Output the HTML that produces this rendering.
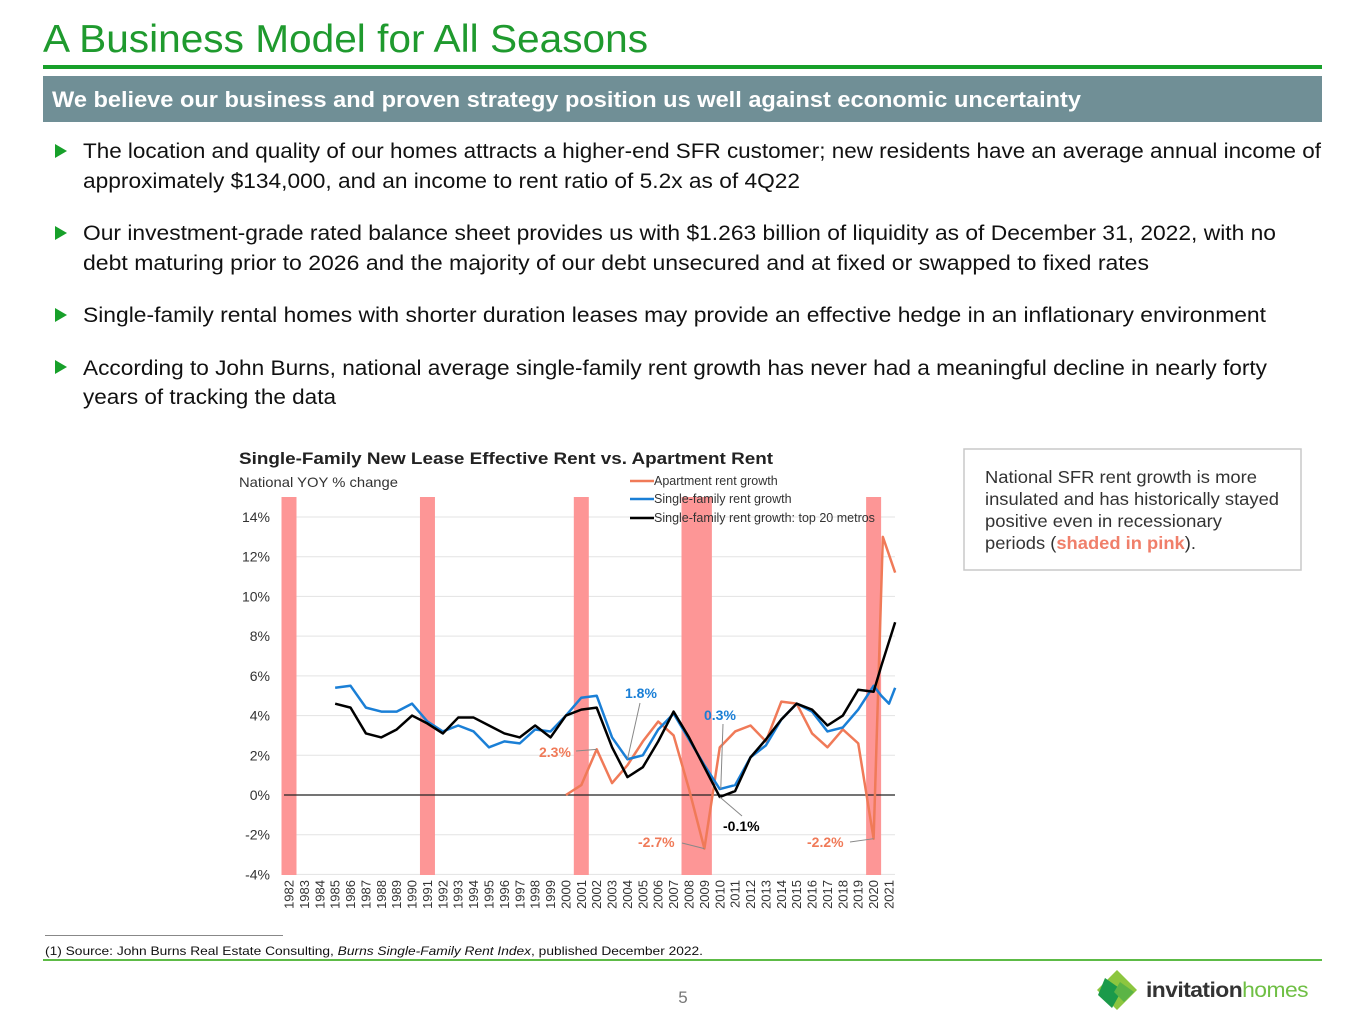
<!DOCTYPE html>
<html><head><meta charset="utf-8">
<style>
html,body{margin:0;padding:0;background:#fff;}
body{width:1365px;height:1024px;overflow:hidden;position:relative;font-family:"Liberation Sans",sans-serif;}
</style></head>
<body>
<svg id="page" width="1365" height="1024" xmlns="http://www.w3.org/2000/svg" style="position:absolute;left:0;top:0">
<text x="43" y="52" font-size="39" fill="#1f9a2e" textLength="605" lengthAdjust="spacingAndGlyphs">A Business Model for All Seasons</text>
<rect x="43" y="65" width="1279" height="4" fill="#17a02a"/>
<rect x="43" y="76" width="1279" height="46" fill="#708f96"/>
<text x="52" y="107" font-size="22" font-weight="bold" fill="#fff" textLength="1029" lengthAdjust="spacingAndGlyphs">We believe our business and proven strategy position us well against economic uncertainty</text>
<g font-size="21.5" fill="#111">
<polygon points="55,144 55,158 67,151" fill="#17a02a"/>
<text x="83" y="158" textLength="1238" lengthAdjust="spacingAndGlyphs">The location and quality of our homes attracts a higher-end SFR customer; new residents have an average annual income of</text>
<text x="83" y="188" textLength="717" lengthAdjust="spacingAndGlyphs">approximately $134,000, and an income to rent ratio of 5.2x as of 4Q22</text>
<polygon points="55,226 55,240 67,233" fill="#17a02a"/>
<text x="83" y="240" textLength="1193" lengthAdjust="spacingAndGlyphs">Our investment-grade rated balance sheet provides us with $1.263 billion of liquidity as of December 31, 2022, with no</text>
<text x="83" y="270" textLength="1066" lengthAdjust="spacingAndGlyphs">debt maturing prior to 2026 and the majority of our debt unsecured and at fixed or swapped to fixed rates</text>
<polygon points="55,308 55,322 67,315" fill="#17a02a"/>
<text x="83" y="322" textLength="1183" lengthAdjust="spacingAndGlyphs">Single-family rental homes with shorter duration leases may provide an effective hedge in an inflationary environment</text>
<polygon points="55,360 55,374 67,367" fill="#17a02a"/>
<text x="83" y="375" textLength="1184" lengthAdjust="spacingAndGlyphs">According to John Burns, national average single-family rent growth has never had a meaningful decline in nearly forty</text>
<text x="83" y="404" textLength="253" lengthAdjust="spacingAndGlyphs">years of tracking the data</text>
</g>

<g id="chart"></g>

<g>
<rect x="964" y="449" width="337" height="121" fill="#fff" stroke="#c8c8c8" stroke-width="1.5"/>
<text x="985" y="483" font-size="17.5" fill="#333" textLength="272" lengthAdjust="spacingAndGlyphs">National SFR rent growth is more</text>
<text x="985" y="505" font-size="17.5" fill="#333" textLength="294" lengthAdjust="spacingAndGlyphs">insulated and has historically stayed</text>
<text x="985" y="527" font-size="17.5" fill="#333" textLength="237" lengthAdjust="spacingAndGlyphs">positive even in recessionary</text>
<text x="985" y="549" font-size="17.5" fill="#333" textLength="211" lengthAdjust="spacingAndGlyphs">periods (<tspan fill="#f07f6a" font-weight="bold">shaded in pink</tspan>).</text>
</g>

<rect x="45" y="935" width="238" height="1" fill="#888"/>
<text x="45" y="955" font-size="12" fill="#111" textLength="658" lengthAdjust="spacingAndGlyphs">(1)    Source: John Burns Real Estate Consulting, <tspan font-style="italic">Burns Single-Family Rent Index</tspan>, published December 2022.</text>
<rect x="43" y="959" width="1279" height="2" fill="#5dbb46"/>
<text x="683" y="1003" font-size="17" fill="#777" text-anchor="middle">5</text>
<g>
<polygon points="1117,970 1137,990 1117,1010 1097,990" fill="#8cc63f"/>
<polygon points="1105,978 1122,990 1112,1008 1098,995" fill="#1b9a4a"/>
<polygon points="1120,982 1134,992 1124,1002 1114,992" fill="#5bb446"/>
<text x="1146" y="997" font-size="21" fill="#333" font-weight="bold" letter-spacing="-0.5" textLength="162" lengthAdjust="spacingAndGlyphs">invitation<tspan fill="#6fbf44" font-weight="normal">homes</tspan></text>
</g>
</svg>

<script>
// chart data
const years = [1982,1983,1984,1985,1986,1987,1988,1989,1990,1991,1992,1993,1994,1995,1996,1997,1998,1999,2000,2001,2002,2003,2004,2005,2006,2007,2008,2009,2010,2011,2012,2013,2014,2015,2016,2017,2018,2019,2020,2021];
const yTicks = [-4,-2,0,2,4,6,8,10,12,14];
const recessionStart = [1982,1991,2001,2008,2020];
const recessionEnd   = [1982,1991,2001,2009,2020];
const sfX = [1985,1986,1987,1988,1989,1990,1991,1992,1993,1994,1995,1996,1997,1998,1999,2000,2001,2002,2003,2004,2005,2006,2007,2008,2009,2010,2011,2012,2013,2014,2015,2016,2017,2018,2019,2020,2020.5,2021,2021.4];
const sfY = [5.4,5.5,4.4,4.2,4.2,4.6,3.7,3.2,3.5,3.2,2.4,2.7,2.6,3.3,3.2,4.0,4.9,5.0,2.9,1.8,2.0,3.3,4.1,2.8,1.5,0.3,0.5,1.9,2.5,3.8,4.6,4.2,3.2,3.4,4.3,5.5,5.0,4.6,5.4];
const topX = [1985,1986,1987,1988,1989,1990,1991,1992,1993,1994,1995,1996,1997,1998,1999,2000,2001,2002,2003,2004,2005,2006,2007,2008,2009,2010,2011,2012,2013,2014,2015,2016,2017,2018,2019,2020,2020.5,2021.4];
const topY = [4.6,4.4,3.1,2.9,3.3,4.0,3.6,3.1,3.9,3.9,3.5,3.1,2.9,3.5,2.9,4.0,4.3,4.4,2.4,0.9,1.4,2.7,4.2,2.9,1.4,-0.1,0.2,1.9,2.8,3.8,4.6,4.3,3.5,4.0,5.3,5.2,6.5,8.7];
const aptX = [2000,2001,2002,2003,2004,2005,2006,2007,2008,2009,2010,2011,2012,2013,2014,2015,2016,2017,2018,2019,2020,2020.6,2021.4];
const aptY = [0,0.5,2.3,0.6,1.5,2.7,3.7,3.0,0.3,-2.7,2.4,3.2,3.5,2.7,4.7,4.6,3.1,2.4,3.3,2.6,-2.2,13.0,11.2];

const NS='http://www.w3.org/2000/svg';
const chart=document.getElementById('chart');
const X0=289, XS=(889-289)/39, Y0=795, YS=(795-517)/14;
function xs(v){return X0+(v-1982)*XS;}
function ys(v){return Y0-v*YS;}
function mk(tag,attrs,parent){const e=document.createElementNS(NS,tag);for(const k in attrs)e.setAttribute(k,attrs[k]);(parent||chart).appendChild(e);return e;}

let t=mk('text',{x:239,y:464,'font-size':17,'font-weight':'bold',fill:'#222',textLength:534,lengthAdjust:'spacingAndGlyphs'});t.textContent='Single-Family New Lease Effective Rent vs. Apartment Rent';


t=mk('text',{x:239,y:487,'font-size':14,fill:'#333',textLength:159,lengthAdjust:'spacingAndGlyphs'});t.textContent='National YOY % change';



yTicks.forEach(v=>{
  const g=mk('line',{x1:284,x2:895,y1:ys(v),y2:ys(v),stroke:'#e3e3e3','stroke-width':1});
  
  
  const l=mk('text',{x:270,y:ys(v)+5,'font-size':14,fill:'#333','text-anchor':'end'});
  l.textContent=v+'%';
  
  
});
recessionStart.forEach((s,i)=>{
  const e=recessionEnd[i];
  const r=mk('rect',{x:xs(s)-7.5,y:497,width:xs(e)-xs(s)+15,height:378,fill:'#fd9696'});
  
  
});
const z=mk('line',{x1:284,x2:895,y1:ys(0),y2:ys(0),stroke:'#222','stroke-width':1.3});


years.forEach(y=>{
  const l=mk('text',{x:0,y:0,'font-size':13,fill:'#333','text-anchor':'end',transform:`translate(${xs(y)+4.5},880) rotate(-90)`});
  l.textContent=y;
  
  
});
function series(xa,ya,color,name){
  const p=mk('polyline',{points:xa.map((x,i)=>xs(x)+','+ys(ya[i])).join(' '),fill:'none',stroke:color,'stroke-width':2.5,'stroke-linejoin':'round'});
  
  
}
series(aptX,aptY,'#f07a58','apartment-rent-line');
series(sfX,sfY,'#1a7fd6','single-family-rent-line');
series(topX,topY,'#000','top-20-metros-line');

const leg=[['#f07a58','Apartment rent growth',481],['#1a7fd6','Single-family rent growth',499],['#000','Single-family rent growth: top 20 metros',518]];
leg.forEach(([c,lab,y])=>{
  mk('line',{x1:630,x2:654,y1:y,y2:y,stroke:c,'stroke-width':2.5});
  const l=mk('text',{x:654,y:y+4,'font-size':12.5,fill:'#333'});l.textContent=lab;
  
  
});
function ann(txt,tx,ty,color,lx1,ly1,lx2,ly2){
  mk('polyline',{points:`${lx1},${ly1} ${lx2},${ly2}`,stroke:'#888','stroke-width':1,fill:'none'});
  const l=mk('text',{x:tx,y:ty,'font-size':14,'font-weight':'bold',fill:color});l.textContent=txt;
  
  
}
ann('2.3%',539,757,'#f07a58',576,751,xs(2002),ys(2.3));
ann('1.8%',625,698,'#1a7fd6',640,703,xs(2004),ys(1.8));
ann('0.3%',704,720,'#1a7fd6',723,724,xs(2010)+1,ys(0.3));
ann('-0.1%',723,831,'#000',742,816,xs(2010),ys(-0.1));
ann('-2.7%',638,847,'#f07a58',682,843,xs(2009),ys(-2.7));
ann('-2.2%',807,847,'#f07a58',850,842,xs(2020),ys(-2.2));
</script>
</body></html>
